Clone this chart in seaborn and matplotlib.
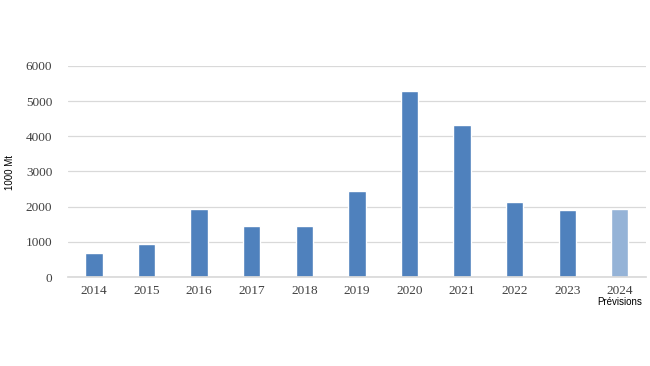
import matplotlib
matplotlib.use("Agg")
import matplotlib.pyplot as plt
import seaborn as sns
import pandas as pd

years = ["2014", "2015", "2016", "2017", "2018", "2019", "2020", "2021", "2022", "2023", "2024"]
values = [690, 940, 1940, 1460, 1450, 2450, 5290, 4330, 2130, 1900, 1940]
yticks = [0, 1000, 2000, 3000, 4000, 5000, 6000]

sns.set_theme(style="white")
plt.rcParams['font.family'] = ['Liberation Serif', 'DejaVu Serif']

df = pd.DataFrame({"year": years, "value": values})
colors = ["#4F81BD"] * 10 + ["#95B3D7"]

fig = plt.figure(figsize=(6.5, 3.66), dpi=100)
ax = fig.add_axes([0.104, 0.243, 0.89, 0.577])
sns.barplot(data=df, x="year", y="value", hue="year", palette=colors, legend=False,
            width=0.33, ax=ax, saturation=1)
ax.set_xlim(-0.5, 10.5)
ax.set_ylim(0, 6000)
ax.set_yticks(yticks)
ax.set_yticklabels([str(t) for t in yticks], fontsize=9.5, color="#404040")
ax.set_xticklabels(years, fontsize=9.5, color="#404040")
ax.yaxis.grid(True, color="#D9D9D9", linewidth=0.9)
ax.set_axisbelow(True)
for s in ["top", "right", "left"]:
    ax.spines[s].set_visible(False)
ax.spines["bottom"].set_color("#D9D9D9")
ax.tick_params(axis="both", length=0, pad=6)
ax.tick_params(axis="y", pad=11)
ax.set_xlabel("")
ax.set_ylabel("")
fig.text(0.016, 0.53, "1000 Mt", rotation=90, ha="center", va="center",
         fontsize=7, family=["Liberation Sans", "DejaVu Sans"], color="#000000")
ax.text(10, -0.095, "Prévisions", transform=ax.get_xaxis_transform(), ha="center", va="top",
        fontsize=7, family=["Liberation Sans", "DejaVu Sans"], color="#000000")
fig.savefig("out.png", dpi=100)
